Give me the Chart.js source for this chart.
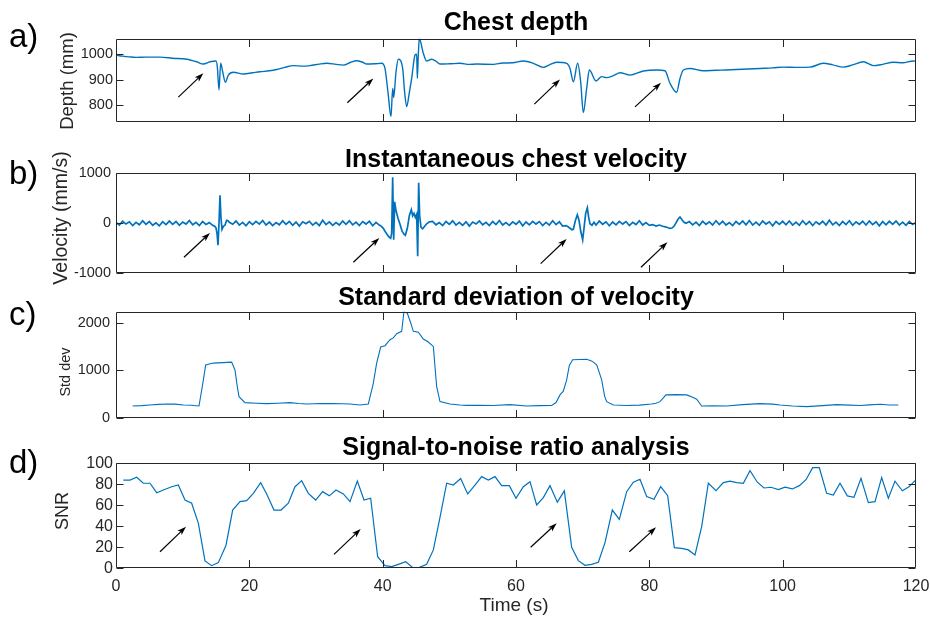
<!DOCTYPE html>
<html>
<head>
<meta charset="utf-8">
<script src="https://cdn.jsdelivr.net/npm/chart.js@4.4.1/dist/chart.umd.min.js"></script>
<style>
  html, body { margin: 0; padding: 0; background: #fff; }
  #wrap { position: relative; width: 930px; height: 619px; overflow: hidden; background: #fff; }
  #wrap canvas { position: absolute; left: 0; top: 0; }
</style>
</head>
<body>
<div id="wrap">
  <canvas id="depth" width="930" height="619"></canvas>
  <canvas id="velocity" width="930" height="619"></canvas>
  <canvas id="stddev" width="930" height="619"></canvas>
  <canvas id="snr" width="930" height="619"></canvas>
</div>
<script>
// shared time axis
const timeTicks = [0, 20, 40, 60, 80, 100, 120];

// a) chest depth (mm)
const depthTime = [0, 1, 2, 3, 4.5, 6.6, 8.5, 10.6, 12.1, 13.1, 14.1, 15, 15.2, 15.45, 15.7, 16, 16.4, 16.85, 17.6, 19.1,
  20.5, 21.6, 23, 24.1, 25.3, 26.6, 28, 29.1, 30.5, 31.6, 33, 34.1, 35.2, 36.1, 37, 37.6, 38.8, 39.85, 40.35, 40.8,
  41.25, 41.5, 41.6, 41.65, 42, 42.35, 43, 43.3, 43.6, 44, 44.35, 44.85, 45.1, 45.2, 45.35, 45.5, 46.1, 46.6, 47.35, 48,
  48.6, 50, 51.6, 53, 54.1, 56.6, 58, 59.5, 61.1, 62.6, 64.1, 65, 66.1, 67.6, 68.1, 68.6, 69.25, 69.7, 70.1, 70.6,
  71, 72, 72.85, 73.6, 74.6, 75.6, 77.1, 79.1, 81.1, 82.35, 83.1, 84.1, 84.6, 85.1, 86.1, 88.1, 90, 91.6, 94, 96.6,
  98.5, 100.1, 102, 104.1, 106.1, 107.5, 109.1, 110.5, 112.1, 113.6, 115, 116.6, 118, 119.6, 120];
const depthValues = [996, 992, 989, 987, 988, 988, 984, 980, 970, 961, 970, 973, 950, 860, 964, 931, 890, 918, 929, 922,
  927, 931, 935, 940, 948, 955, 953, 955, 961, 964, 960, 957, 968, 974, 968, 961, 962, 964, 944, 850,
  756, 866, 850, 830, 930, 980, 944, 850, 795, 850, 905, 996, 1000, 905, 1000, 1061, 1003, 973, 980, 972,
  961, 962, 964, 960, 961, 960, 965, 966, 973, 964, 948, 958, 968, 964, 944, 892, 964, 892, 772, 866,
  938, 895, 912, 908, 916, 927, 918, 934, 938, 935, 886, 851, 905, 938, 944, 935, 937, 938, 941, 944,
  946, 949, 948, 949, 964, 958, 949, 958, 970, 955, 960, 968, 966, 973, 972];
const depthTicks = [800, 900, 1000];
const depthArrows = [[9.35, 832, 13.1, 925], [34.7, 810, 38.6, 905], [62.75, 805, 66.6, 901], [77.85, 794, 81.75, 888]];

// b) instantaneous chest velocity (mm/s)
const velocityTime = [
  0, 0.5, 1, 1.5, 2, 2.5, 3, 3.5, 4, 4.5, 5, 5.5, 6, 6.5, 7, 7.5, 8, 8.5, 9, 9.5, 10, 10.5, 11, 11.5, 12, 12.5, 13, 13.5, 14, 14.5,
  14.8, 15, 15.15, 15.3, 15.45, 15.6, 15.75, 15.9, 16.1, 16.35, 16.6, 16.8, 17,
  17.5, 18, 18.5, 19, 19.5, 20, 20.5, 21, 21.5, 22, 22.5, 23, 23.5, 24, 24.5, 25, 25.5, 26, 26.5, 27, 27.5, 28, 28.5,
  29, 29.5, 30, 30.5, 31, 31.5, 32, 32.5, 33, 33.5, 34, 34.5, 35, 35.5, 36, 36.5, 37, 37.5, 38, 38.5, 39, 39.5,
  39.8, 40.1, 40.4, 40.7, 41, 41.2, 41.35, 41.5, 41.65, 41.8, 42, 42.3, 42.6, 42.9, 43.2, 43.4, 43.7, 44, 44.3, 44.5,
  44.7, 44.9, 45.1, 45.25, 45.4, 45.55, 45.75, 46, 46.3, 46.6, 47,
  47.5, 48, 48.5, 49, 49.5, 50, 50.5, 51, 51.5, 52, 52.5, 53, 53.5, 54, 54.5, 55, 55.5, 56, 56.5, 57, 57.5, 58, 58.5,
  59, 59.5, 60, 60.5, 61, 61.5, 62, 62.5, 63, 63.5, 64, 64.5, 65, 65.5, 66, 66.5, 67, 67.5,
  67.8, 68.1, 68.4, 68.6, 68.9, 69.2, 69.45, 69.7, 70, 70.2, 70.45, 70.7, 70.9, 71.1, 71.4, 71.7,
  72, 72.5, 73, 73.5, 74, 74.5, 75, 75.5, 76, 76.5, 77, 77.5, 78, 78.5, 79, 79.5, 80, 80.5, 81, 81.5, 82,
  82.4, 82.8, 83.1, 83.4, 83.7, 84, 84.3, 84.6, 84.9, 85.2, 85.5,
  86, 86.5, 87, 87.5, 88, 88.5, 89, 89.5, 90, 90.5, 91, 91.5, 92, 92.5, 93, 93.5, 94, 94.5, 95, 95.5, 96, 96.5, 97, 97.5,
  98, 98.5, 99, 99.5, 100, 100.5, 101, 101.5, 102, 102.5, 103, 103.5, 104, 104.5, 105, 105.5, 106, 106.5, 107, 107.5,
  108, 108.5, 109, 109.5, 110, 110.5, 111, 111.5, 112, 112.5, 113, 113.5, 114, 114.5, 115, 115.5, 116, 116.5, 117, 117.5,
  118, 118.5, 119, 119.5, 120];
const velocityValues = [
  15, -35, 40, -15, 30, -45, 20, -30, 50, -20, 35, -40, 10, -50, 30, -25, 45, -20, 35, -40, 25, -15, 55, -30, 20, -45, 35, -25, 15, -40,
  -60, -93, -200, -440, 0, 560, 100, -120, -60, -40, 60, 50, 20,
  -20, 45, -35, 20, -50, 30, -25, 40, -15, 55, -35, 25, -45, 15, -30, 50, -20, 35, -40, 25, -55, 30,
  -10, 40, -35, 20, -45, 60, -25, 30, -40, 15, -35, 45, -20, 50, -30, 25, -45, 35, -15, 40, -50, 20, -35,
  -60, -100, -170, -230, -280, -300, -200, 920, -330, 430, 250, 100, -20, -150, -220, -240, -100, 150, 270, 150,
  200, 120, 180, -660, 810, 150, -80, -110, -60, -10, 30,
  40, -30, 15, -45, 35, -20, 50, -35, 20, -40, 30, -55, 25, -15, 45, -30, 20, -45, 35, -25, 55, -35, 15,
  -40, 30, -20, 45, -50, 25, -30, 40, -15, 35, -45, 20, -35, 50, -25, 30, -55, -45,
  -70, -100, -130, -120, 50, 170, 60, -150, -330, -100, 200, 310, 120, -10, -40, 20,
  -35, 45, -20, 30, -50, 25, -30, 40, -15, 35, -45, 20, -25, 50, -35, 15, -40, -25, -55, -35, -60,
  -70, -90, -100, -95, -60, 10, 80, 125, 70, 20, 0,
  35, -30, 25, -45, 40, -20, 30, -35, 50, -25, 40, -35, 15, -45, 35, -20, 45, -30, 55, -35, 25, -40, 45, -15,
  30, -50, 35, -20, 40, -30, 45, -35, 25, -40, 50, -25, 35, -45, 30, -20, 40, -35, 60, -30,
  25, -45, 35, -25, 50, -40, 30, -20, 40, -35, 45, -25, 30, -50, 35, -30, 40, -20, 45, -35,
  25, -40, 35, -25, 15];
const velocityTicks = [-1000, 0, 1000];
const velocityArrows = [[10.2, -680, 14.1, -193], [35.6, -780, 39.5, -293], [63.7, -807, 67.6, -313], [78.75, -880, 82.7, -380]];

// c) standard deviation of velocity
const stdTime = [2.5, 3.8, 5.1, 6.4, 7.6, 8.9, 10.1, 11.3, 12.45, 13, 13.45, 14.6, 16, 17.35, 17.85, 18.2, 18.45, 19.35, 21, 22.6,
  24.3, 26.1, 27.4, 28.6, 30.6, 32.6, 33.8, 35.1, 36.6, 37.85, 38.3, 38.6, 39.1, 39.7, 40.35, 41.1, 41.6, 42.1, 42.85, 43.2,
  43.7, 44.2, 44.6, 45.35, 46.1, 46.8, 47.6, 48.1, 48.6, 50.1, 51.6, 52.5, 54.5, 56.6, 59.1, 61.6, 63.5, 65.35, 66, 66.6,
  67.1, 67.6, 68, 68.5, 70.6, 71.4, 72.1, 72.5, 72.85, 73.3, 73.6, 74.6, 76.6, 78.5, 80.35, 81, 81.6, 82.5, 84, 85.6,
  86.5, 87.1, 87.85, 89.5, 91.6, 94, 96.6, 98.5, 99.6, 101.5, 103.6, 106, 108.1, 110, 111.6, 113, 114.6, 116, 117.35];
const stdValues = [247, 255, 268, 280, 290, 285, 268, 262, 247, 700, 1113, 1150, 1160, 1170, 1000, 650, 444, 317, 305, 296,
  305, 317, 300, 290, 300, 296, 295, 290, 268, 290, 550, 727, 1150, 1488, 1516, 1643, 1680, 1770, 1818, 2241,
  2200, 2000, 1818, 1800, 1657, 1600, 1500, 655, 338, 290, 268, 260, 262, 257, 275, 247, 255, 257, 320, 480,
  560, 797, 1100, 1220, 1230, 1190, 1113, 950, 797, 450, 338, 268, 257, 265, 290, 305, 338, 480, 485, 480,
  430, 388, 247, 250, 247, 275, 296, 285, 268, 245, 233, 255, 275, 265, 257, 270, 282, 268, 268];
const stdTicks = [0, 1000, 2000];

// d) signal-to-noise ratio
const snrTime = [1.1, 2.1, 3.1, 4.1, 5.1, 6.1, 7.1, 8.35, 9.35, 10.35, 11.35, 12.35, 13.35, 14.35, 15.35, 16.5, 17.5, 18.6, 19.6, 20.6,
  21.7, 22.6, 23.7, 24.75, 25.85, 26.85, 27.85, 28.85, 29.95, 31, 32, 33, 34.1, 35.1, 36.2, 37.2, 38.2, 39.25, 40.35, 41.35,
  42.35, 43.45, 44.45, 45.45, 46.6, 47.6, 48.6, 49.6, 50.6, 51.7, 52.75, 53.85, 54.85, 55.85, 56.85, 57.85, 59, 60, 61.1, 62.1,
  63.1, 64.1, 65.1, 66.2, 67.25, 68.35, 69.35, 70.35, 71.35, 72.35, 73.35, 74.45, 75.5, 76.6, 77.6, 78.6, 79.6, 80.7, 81.7, 82.75,
  83.75, 84.85, 85.85, 86.85, 87.85, 88.85, 90, 91.1, 92.1, 93.1, 94.1, 95.1, 96.2, 97.2, 98.25, 99.35, 100.35, 101.45, 102.5, 103.5,
  104.5, 105.5, 106.6, 107.6, 108.6, 109.7, 110.7, 111.75, 112.85, 113.85, 114.85, 115.85, 116.85, 117.95, 118.95, 119.95];
const snrValues = [84, 84, 86.7, 81, 81, 72, 74.6, 77.7, 79.3, 65, 62, 43, 7, 2.5, 5.4, 22, 55.5, 63.5, 64.5, 71.4,
  81.6, 70.8, 55.5, 55.5, 62, 77.7, 83.5, 71.4, 65, 73, 69, 74.6, 70.8, 63.5, 83, 65, 66.7, 11, 2.5, 1.6,
  3.8, 6.3, 1, 0.6, 3.8, 17.5, 48.5, 81, 79.3, 85.5, 70.8, 79.3, 87.3, 84, 87.3, 78.7, 78.7, 66.7, 77.7, 82.5,
  60.3, 67.3, 78.7, 63, 73.8, 20, 7.3, 2.9, 3.8, 5.7, 24.5, 55.5, 46.6, 73, 82, 84.8, 68.3, 65.7, 77.7, 69.2,
  19.7, 19, 17.5, 12.7, 39.7, 81, 74, 81.6, 83, 81.6, 81, 93, 82, 76.5, 77.2, 74.9, 77.2, 75.6, 78.7, 84.4,
  95.8, 95.8, 71.4, 69.8, 81, 69, 67.7, 85.7, 62.5, 63.5, 86.4, 66.7, 83, 73.8, 77.7, 84];
const snrTicks = [0, 20, 40, 60, 80, 100];
const snrArrows = [[6.6, 15.8, 10.5, 39.6], [32.7, 13.3, 36.7, 37.4], [62.2, 20, 66.1, 42.9], [77, 15.8, 81, 39]];

const FONT = '"Liberation Sans", Arial, Helvetica, sans-serif';
const LINE = '#0072bd';
const INK = '#262626';
const PLOT_LEFT = 116;
const PLOT_RIGHT = 916;

function drawArrow(ctx, x0, y0, x1, y1) {
  const a = Math.atan2(y1 - y0, x1 - x0);
  const c = Math.cos(a), s = Math.sin(a);
  const len = 9, half = 3;
  ctx.beginPath();
  ctx.moveTo(x0, y0);
  ctx.lineTo(x1 - len * 0.7 * c, y1 - len * 0.7 * s);
  ctx.stroke();
  ctx.beginPath();
  ctx.moveTo(x1, y1);
  ctx.lineTo(x1 - len * c + half * s, y1 - len * s - half * c);
  ctx.lineTo(x1 - len * 0.75 * c, y1 - len * 0.75 * s);
  ctx.lineTo(x1 - len * c - half * s, y1 - len * s + half * c);
  ctx.closePath();
  ctx.fill();
}

// MATLAB-style boxed axes with inward ticks, plus titles, labels and arrows
function frame(cfg) {
  return {
    id: 'matlabFrame',
    afterDraw(chart) {
      const { ctx, chartArea: area, scales: { x, y } } = chart;
      ctx.save();
      ctx.strokeStyle = INK;
      ctx.lineWidth = 1;
      const L = Math.round(area.left) + 0.5, R = Math.round(area.right) - 0.5;
      const T = Math.round(area.top) + 0.5, B = Math.round(area.bottom) - 0.5;
      ctx.beginPath();
      ctx.rect(L, T, R - L, B - T);
      timeTicks.forEach(v => {
        if (v === 0 || v === 120) return;
        const px = Math.round(x.getPixelForValue(v)) + 0.5;
        ctx.moveTo(px, B); ctx.lineTo(px, B - 7.5);
        ctx.moveTo(px, T); ctx.lineTo(px, T + 7.5);
      });
      cfg.yTicks.forEach(v => {
        const py = Math.round(y.getPixelForValue(v)) + 0.5;
        ctx.moveTo(L, py); ctx.lineTo(L + 7, py);
        ctx.moveTo(R, py); ctx.lineTo(R - 7, py);
      });
      ctx.stroke();

      ctx.strokeStyle = '#000';
      ctx.fillStyle = '#000';
      ctx.lineWidth = 1.2;
      (cfg.arrows || []).forEach(([t0, v0, t1, v1]) => {
        drawArrow(ctx, x.getPixelForValue(t0), y.getPixelForValue(v0), x.getPixelForValue(t1), y.getPixelForValue(v1));
      });

      ctx.fillStyle = '#000';
      ctx.textBaseline = 'alphabetic';
      ctx.textAlign = 'center';
      ctx.font = 'bold 25px ' + FONT;
      ctx.fillText(cfg.title, 516, cfg.titleY);

      ctx.textAlign = 'left';
      ctx.font = '33px ' + FONT;
      ctx.fillText(cfg.letter, 9, cfg.letterY);

      ctx.fillStyle = INK;
      ctx.save();
      ctx.translate(cfg.yLabelX, cfg.yLabelY);
      ctx.rotate(-Math.PI / 2);
      ctx.textAlign = 'center';
      ctx.textBaseline = 'middle';
      ctx.font = cfg.yLabelSize + 'px ' + FONT;
      ctx.fillText(cfg.yLabel, 0, 0);
      ctx.restore();

      if (cfg.xLabel) {
        ctx.textAlign = 'center';
        ctx.font = '19px ' + FONT;
        ctx.fillText(cfg.xLabel, 514, 611);
      }
      ctx.restore();
    }
  };
}

function makePanel(id, cfg) {
  const points = cfg.times.map((t, i) => ({ x: t, y: cfg.values[i] }));
  return new Chart(document.getElementById(id), {
    type: 'line',
    data: {
      datasets: [{
        data: points,
        borderColor: LINE,
        borderWidth: cfg.lineWidth,
        pointRadius: 0,
        fill: false,
        tension: 0,
        cubicInterpolationMode: cfg.smooth ? 'monotone' : 'default'
      }]
    },
    options: {
      responsive: false,
      animation: false,
      devicePixelRatio: 1,
      events: [],
      layout: { padding: { left: 0, right: 930 - PLOT_RIGHT, top: cfg.top, bottom: 0 } },
      plugins: { legend: { display: false }, tooltip: { enabled: false }, title: { display: false } },
      scales: {
        x: {
          type: 'linear', min: 0, max: 120,
          grid: { display: false, drawTicks: false },
          border: { display: false },
          afterBuildTicks: s => { s.ticks = timeTicks.map(v => ({ value: v })); },
          ticks: {
            display: !!cfg.xLabel, autoSkip: false, maxRotation: 0, padding: 9,
            color: INK, font: { family: FONT, size: 16 }, callback: v => String(v)
          },
          afterFit: s => { s.height = 619 - cfg.bottom; s.paddingLeft = 0; s.paddingRight = 0; }
        },
        y: {
          type: 'linear', min: cfg.yMin, max: cfg.yMax,
          grid: { display: false, drawTicks: false },
          border: { display: false },
          afterBuildTicks: s => { s.ticks = cfg.yTicks.map(v => ({ value: v })); },
          ticks: {
            autoSkip: false, padding: cfg.tickPad, color: INK,
            font: { family: FONT, size: cfg.tickSize }, callback: v => String(v)
          },
          afterFit: s => { s.width = PLOT_LEFT; s.paddingTop = 0; s.paddingBottom = 0; }
        }
      }
    },
    plugins: [frame(cfg)]
  });
}

makePanel('depth', {
  times: depthTime, values: depthValues, yTicks: depthTicks, arrows: depthArrows,
  yMin: 735, yMax: 1060, top: 38.7, bottom: 122, lineWidth: 1.4, smooth: true,
  tickSize: 14.5, tickPad: 3,
  title: 'Chest depth', titleY: 30, letter: 'a)', letterY: 47,
  yLabel: 'Depth (mm)', yLabelX: 68, yLabelY: 81, yLabelSize: 18.5
});
makePanel('velocity', {
  times: velocityTime, values: velocityValues, yTicks: velocityTicks, arrows: velocityArrows,
  yMin: -1000, yMax: 1000, top: 173.3, bottom: 273.3, lineWidth: 1.7, smooth: false,
  tickSize: 14.5, tickPad: 5,
  title: 'Instantaneous chest velocity', titleY: 166.5, letter: 'b)', letterY: 183.5,
  yLabel: 'Velocity (mm/s)', yLabelX: 62, yLabelY: 218, yLabelSize: 19.5
});
makePanel('stddev', {
  times: stdTime, values: stdValues, yTicks: stdTicks, arrows: [],
  yMin: 0, yMax: 2232, top: 311.7, bottom: 417.7, lineWidth: 1.1, smooth: false,
  tickSize: 14.5, tickPad: 6,
  title: 'Standard deviation of velocity', titleY: 305, letter: 'c)', letterY: 325,
  yLabel: 'Std dev', yLabelX: 66, yLabelY: 372, yLabelSize: 14.5
});
makePanel('snr', {
  times: snrTime, values: snrValues, yTicks: snrTicks, arrows: snrArrows,
  yMin: 0, yMax: 100, top: 463.3, bottom: 568.3, lineWidth: 1.2, smooth: false,
  tickSize: 16, tickPad: 3,
  title: 'Signal-to-noise ratio analysis', titleY: 455, letter: 'd)', letterY: 472.5,
  yLabel: 'SNR', yLabelX: 63, yLabelY: 511, yLabelSize: 18,
  xLabel: 'Time (s)'
});
</script>
</body>
</html>
